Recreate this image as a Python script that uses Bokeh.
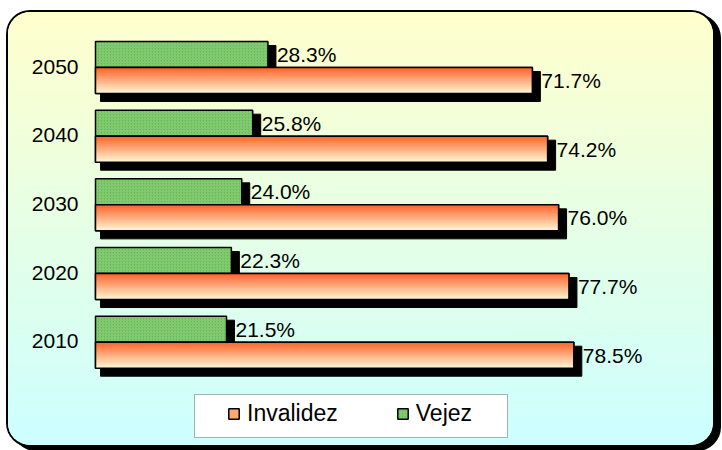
from bokeh.plotting import figure
from bokeh.models import Range1d, Legend, LegendItem, BoxAnnotation, ColumnDataSource
from bokeh.core.properties import value
from bokeh.embed import file_html
from bokeh.resources import INLINE

# ---- data ----
years = ["2010", "2020", "2030", "2040", "2050"]
invalidez = [78.5, 77.7, 76.0, 74.2, 71.7]
vejez = [21.5, 22.3, 24.0, 25.8, 28.3]
series_names = ["Invalidez", "Vejez"]

# ---- layout constants (pixels on the page) ----
W, H = 705, 433
FIG_LEFT, FIG_TOP = 8, 12
X0_PX, X_SCALE = 95, 6.093        # page x of 0 %, px per percent
Y_TOP_PX, Y_STEP = 67, 68.675     # page y of last category, px per category
BAR_PX = 26
FONT = "Liberation Sans"

n = len(years)
x_start = -(X0_PX - FIG_LEFT) / X_SCALE
x_end = x_start + W / X_SCALE
y_end = (n - 1) + (Y_TOP_PX - FIG_TOP) / Y_STEP
y_start = y_end - H / Y_STEP


def px_x(px):
    return (px - X0_PX) / X_SCALE


def px_y(py):
    return y_end - (py - FIG_TOP) / Y_STEP


def dx(px):
    return px / X_SCALE


def dy(px):
    return px / Y_STEP


h = dy(BAR_PX)
pos = list(range(n))

p = figure(width=W, height=H, x_range=Range1d(x_start, x_end), y_range=Range1d(y_start, y_end),
           x_axis_type=None, y_axis_type=None, output_backend="svg", toolbar_location=None,
           min_border=0, background_fill_alpha=0, border_fill_alpha=0, outline_line_color=None,
           styles={"margin-top": f"{FIG_TOP}px", "margin-left": f"{FIG_LEFT}px",
                   "background": "linear-gradient(to bottom, #FFFFCC, #CCFFFF)",
                   "border-radius": "22px",
                   "box-shadow": "0 0 0 2px #000, 6px 4px 0 2px #000"})
p.grid.visible = False

gsrc = ColumnDataSource(dict(y=[i + h / 2 for i in pos], v=vejez,
                             top=[i + h - dy(4) for i in pos], bottom=[i - dy(8) for i in pos],
                             right=[v + dx(8) for v in vejez],
                             lx=[v + dx(9) for v in vejez],
                             lab=[f"{v:.1f}%" for v in vejez]))
osrc = ColumnDataSource(dict(y=[i - h / 2 for i in pos], v=invalidez,
                             top=[i - dy(4) for i in pos], bottom=[i - h - dy(8) for i in pos],
                             right=[v + dx(8) for v in invalidez],
                             lx=[v + dx(9) for v in invalidez],
                             lab=[f"{v:.1f}%" for v in invalidez]))

# shadows
p.quad(left=dx(5), right="right", top="top", bottom="bottom", source=gsrc,
       fill_color="black", line_color="black")
p.quad(left=dx(5), right="right", top="top", bottom="bottom", source=osrc,
       fill_color="black", line_color="black")

# green bars
GREEN = "#66BB55"
green_r = p.hbar(y="y", left=0, right="v", height=h, source=gsrc, fill_color=GREEN,
                 hatch_pattern="/", hatch_color="#8ED07E", hatch_scale=3, hatch_weight=1,
                 line_color="black", line_width=1.5)

# orange bars: base (used for the legend swatch), gradient strips, outline
base_r = p.hbar(y="y", left=0, right="v", height=h, source=osrc, fill_color="#FFA878",
                line_color="black", line_width=1.5)
NS = 16
top_rgb, bot_rgb = (255, 102, 46), (255, 245, 210)
tops, bots, rights, cols = [], [], [], []
for i, v in zip(pos, invalidez):
    for k in range(NS):
        t = k / (NS - 1)
        c = tuple(round(a + (b - a) * t) for a, b in zip(top_rgb, bot_rgb))
        tops.append(i - k * h / NS)
        bots.append(max(i - (k + 2) * h / NS, i - h))
        rights.append(v)
        cols.append("#%02x%02x%02x" % c)
p.quad(left=0, right="right", top="top", bottom="bottom", fill_color="c", line_color=None,
       source=ColumnDataSource(dict(top=tops, bottom=bots, right=rights, c=cols)))
p.hbar(y="y", left=0, right="v", height=h, source=osrc, fill_alpha=0,
       line_color="black", line_width=1.5)

# value labels
for src in (gsrc, osrc):
    p.text(x="lx", y="y", text="lab", source=src, text_font=value(FONT),
           text_font_size="21px", text_color="black", text_align="left", text_baseline="middle")

# category labels
p.text(x=[px_x(78)] * n, y=[i + dy(1) for i in pos], text=years, text_font=value(FONT),
       text_font_size="21px", text_color="black", text_align="right", text_baseline="middle")

# legend
box = BoxAnnotation(left=px_x(194), right=px_x(507), top=px_y(394), bottom=px_y(437),
                    fill_color="white", fill_alpha=1, line_color="black", line_width=1)
p.add_layout(box)
legend = Legend(items=[LegendItem(label=series_names[0], renderers=[base_r]),
                       LegendItem(label=series_names[1], renderers=[green_r])],
                orientation="horizontal", location=(219, 18), glyph_width=13, glyph_height=13,
                label_standoff=7, spacing=58, padding=0, margin=0, label_height=28,
                border_line_alpha=0, background_fill_alpha=0,
                label_text_font=FONT, label_text_font_size="23px", label_text_color="black")
p.add_layout(legend)

open("out.html", "w").write(file_html(p, INLINE))
